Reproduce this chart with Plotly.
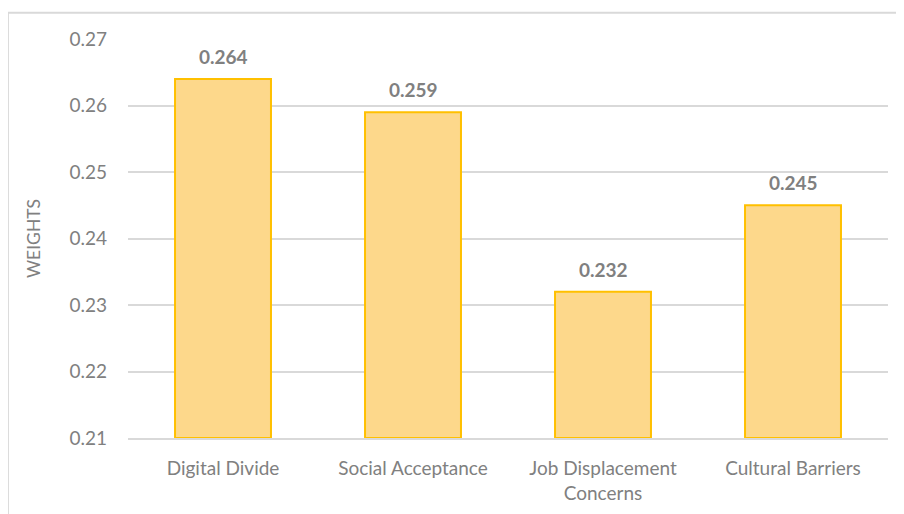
import plotly.graph_objects as go

categories = ["Digital Divide", "Social Acceptance", "Job Displacement<br>Concerns", "Cultural Barriers"]
weights = [0.264, 0.259, 0.232, 0.245]
labels = ["0.264", "0.259", "0.232", "0.245"]
y_ticks = [0.21, 0.22, 0.23, 0.24, 0.25, 0.26, 0.27]
y_tick_text = ["0.21", "0.22", "0.23", "0.24", "0.25", "0.26", "0.27"]

font_family = "Lato, 'Open Sans', sans-serif"
gray = "#808080"

fig = go.Figure()
fig.add_trace(go.Bar(
    x=categories,
    y=[w - 0.21 for w in weights],
    base=0.21,
    width=0.505,
    marker=dict(color="#FDD88B", line=dict(color="#FFC000", width=2)),
    hoverinfo="skip",
))

for c, w, t in zip(categories, weights, labels):
    fig.add_annotation(x=c, y=w, text="<b>" + t + "</b>", showarrow=False,
                       yanchor="bottom", yshift=9,
                       font=dict(family=font_family, size=19, color=gray))

# outer frame (left and top edges)
fig.add_shape(type="line", xref="paper", yref="paper",
              x0=-0.158, x1=-0.158, y0=1.066, y1=-0.3,
              line=dict(color="#D9D9D9", width=2))
fig.add_shape(type="line", xref="paper", yref="paper",
              x0=-0.158, x1=1.1, y0=1.066, y1=1.066,
              line=dict(color="#D9D9D9", width=2))

fig.update_layout(
    width=904, height=514,
    margin=dict(l=120, r=24, t=31, b=84),
    paper_bgcolor="white", plot_bgcolor="white",
    showlegend=False,
    bargap=0.495,
    font=dict(family=font_family, size=19, color=gray),
    xaxis=dict(showgrid=False, showline=True, linecolor="#D9D9D9", linewidth=2,
               ticks="", ticklabelstandoff=12,
               tickfont=dict(family=font_family, size=19, color=gray)),
    yaxis=dict(range=[0.21, 0.27], tickvals=y_ticks, ticktext=y_tick_text,
               showgrid=True, gridcolor="#D9D9D9", gridwidth=2,
               zeroline=False, showline=False, ticks="",
               ticklabelstandoff=20,
               tickfont=dict(family=font_family, size=19, color=gray),
               title=dict(text="WEIGHTS", standoff=24,
                          font=dict(family=font_family, size=17.5, color=gray))),
)

fig.write_html("out.html")
